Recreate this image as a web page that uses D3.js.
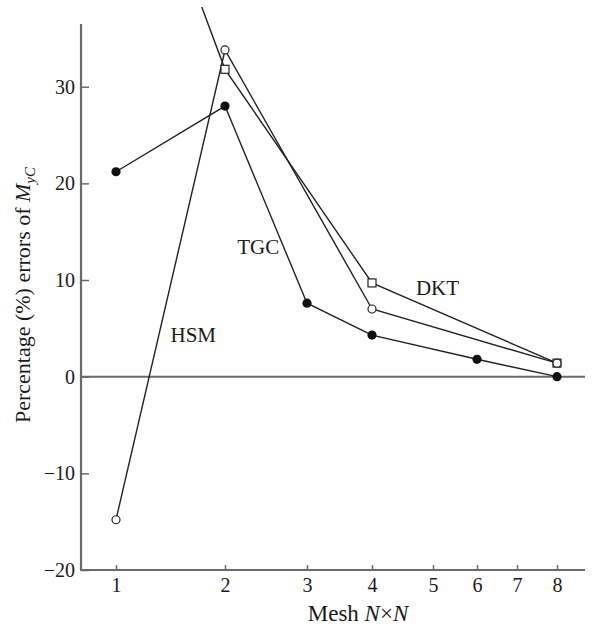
<!DOCTYPE html>
<meta charset="utf-8">
<html>
<head>
  <title>Percentage errors vs mesh</title>
  <script src="https://cdn.jsdelivr.net/npm/d3@7"></script>
  <style>
    body { margin: 0; background: #fff; }
    text { font-family: "Liberation Serif", "Times New Roman", serif; fill: #1a1a1a; }
  </style>
</head>
<body>
<div id="chart"></div>
<script>
// ---- data ----
var meshN = [1, 2, 3, 4, 5, 6, 7, 8];
var yTicks = [-20, -10, 0, 10, 20, 30];

var tgcN = [1, 2, 3, 4, 6, 8];
var tgcErr = [21.2, 28.0, 7.6, 4.3, 1.8, 0.0];

var hsmN = [1, 2, 4, 8];
var hsmErr = [-14.8, 33.8, 7.0, 1.4];

// first DKT value is far above the plot, only its line shows
var dktN = [1, 2, 4, 8];
var dktErr = [62, 31.8, 9.7, 1.4];

var labelText = ["DKT", "TGC", "HSM"];
var labelN = [4.72, 2.15, 1.5];
var labelErr = [8.4, 12.7, 3.6];

// ---- layout ----
var W = 595, H = 628;
var axisX = 81, axisEnd = 585, axisTop = 24;

var svg = d3.select("#chart").append("svg")
  .attr("width", W).attr("height", H);

// the mesh axis is not evenly spaced in the figure, so map each tick
var x = d3.scaleLinear()
  .domain(meshN)
  .range([116, 225, 307, 372, 433, 477, 517, 557]);

var y = d3.scaleLinear()
  .domain([-20, 30])
  .range([570, 86.7]);

var axisColor = "#6a6a6a";
var serif = "Liberation Serif, Times New Roman, serif";

// y axis
var gy = svg.append("g")
  .attr("transform", "translate(" + axisX + ",0)")
  .call(d3.axisLeft(y).tickValues(yTicks).tickSize(-8).tickPadding(6));
gy.select(".domain").remove();
gy.selectAll(".tick line").attr("stroke", axisColor).attr("stroke-width", 1.5);
gy.selectAll(".tick text").attr("font-size", 20).attr("fill", "#1a1a1a")
  .attr("font-family", serif);

// x axis
var gx = svg.append("g")
  .attr("transform", "translate(0," + y(-20) + ")")
  .call(d3.axisBottom(x).tickValues(meshN).tickSize(-5).tickPadding(8).tickFormat(d3.format("d")));
gx.select(".domain").remove();
gx.selectAll(".tick line").attr("stroke", axisColor).attr("stroke-width", 1.5);
gx.selectAll(".tick text").attr("font-size", 20).attr("fill", "#1a1a1a")
  .attr("font-family", serif);

// frame lines
svg.append("line")
  .attr("x1", axisX).attr("x2", axisX)
  .attr("y1", axisTop).attr("y2", y(-20))
  .attr("stroke", axisColor).attr("stroke-width", 2.2);
svg.append("line")
  .attr("x1", axisX - 1).attr("x2", axisEnd)
  .attr("y1", y(-20)).attr("y2", y(-20))
  .attr("stroke", axisColor).attr("stroke-width", 2.2);
svg.append("line")
  .attr("x1", axisX).attr("x2", axisEnd)
  .attr("y1", y(0)).attr("y2", y(0))
  .attr("stroke", axisColor).attr("stroke-width", 2);

// clip so the DKT line leaves the top of the picture
svg.append("clipPath").attr("id", "plotClip")
  .append("rect")
  .attr("x", axisX).attr("y", 7)
  .attr("width", W - axisX).attr("height", y(-20) - 7);

var plot = svg.append("g").attr("clip-path", "url(#plotClip)");

function pairs(ns, vs) {
  return ns.map(function(n, i) { return [n, vs[i]]; });
}

var line = d3.line()
  .x(function(d) { return x(d[0]); })
  .y(function(d) { return y(d[1]); });

var series = [pairs(tgcN, tgcErr), pairs(hsmN, hsmErr), pairs(dktN, dktErr)];

series.forEach(function(s) {
  plot.append("path")
    .datum(s)
    .attr("d", line)
    .attr("fill", "none")
    .attr("stroke", "#222")
    .attr("stroke-width", 1.4);
});

// markers
svg.append("g").selectAll("rect")
  .data(pairs(dktN, dktErr).filter(function(d) { return d[1] <= 36; }))
  .enter().append("rect")
  .attr("x", function(d) { return x(d[0]) - 4; })
  .attr("y", function(d) { return y(d[1]) - 4; })
  .attr("width", 8).attr("height", 8)
  .attr("fill", "#fff").attr("stroke", "#222").attr("stroke-width", 1.2);

svg.append("g").selectAll("circle")
  .data(pairs(hsmN, hsmErr))
  .enter().append("circle")
  .attr("cx", function(d) { return x(d[0]); })
  .attr("cy", function(d) { return y(d[1]); })
  .attr("r", 4)
  .attr("fill", "#fff").attr("stroke", "#222").attr("stroke-width", 1.2);

svg.append("g").selectAll("circle")
  .data(pairs(tgcN, tgcErr))
  .enter().append("circle")
  .attr("cx", function(d) { return x(d[0]); })
  .attr("cy", function(d) { return y(d[1]); })
  .attr("r", 4.6)
  .attr("fill", "#111");

// series labels
svg.append("g").selectAll("text")
  .data(labelText)
  .enter().append("text")
  .attr("x", function(d, i) { return x(labelN[i]); })
  .attr("y", function(d, i) { return y(labelErr[i]); })
  .attr("font-size", 21)
  .text(function(d) { return d; });

// axis titles
var xt = svg.append("text")
  .attr("x", 358).attr("y", 621)
  .attr("text-anchor", "middle")
  .attr("font-size", 23);
xt.append("tspan").text("Mesh ");
xt.append("tspan").attr("font-style", "italic").text("N");
xt.append("tspan").text("×");
xt.append("tspan").attr("font-style", "italic").text("N");

var yt = svg.append("text")
  .attr("transform", "translate(30,295) rotate(-90)")
  .attr("text-anchor", "middle")
  .attr("font-size", 22);
yt.append("tspan").text("Percentage (%) errors of ");
yt.append("tspan").attr("font-style", "italic").text("M");
yt.append("tspan").attr("font-style", "italic").attr("font-size", 15).attr("dy", 5).text("yC");
</script>
</body>
</html>
